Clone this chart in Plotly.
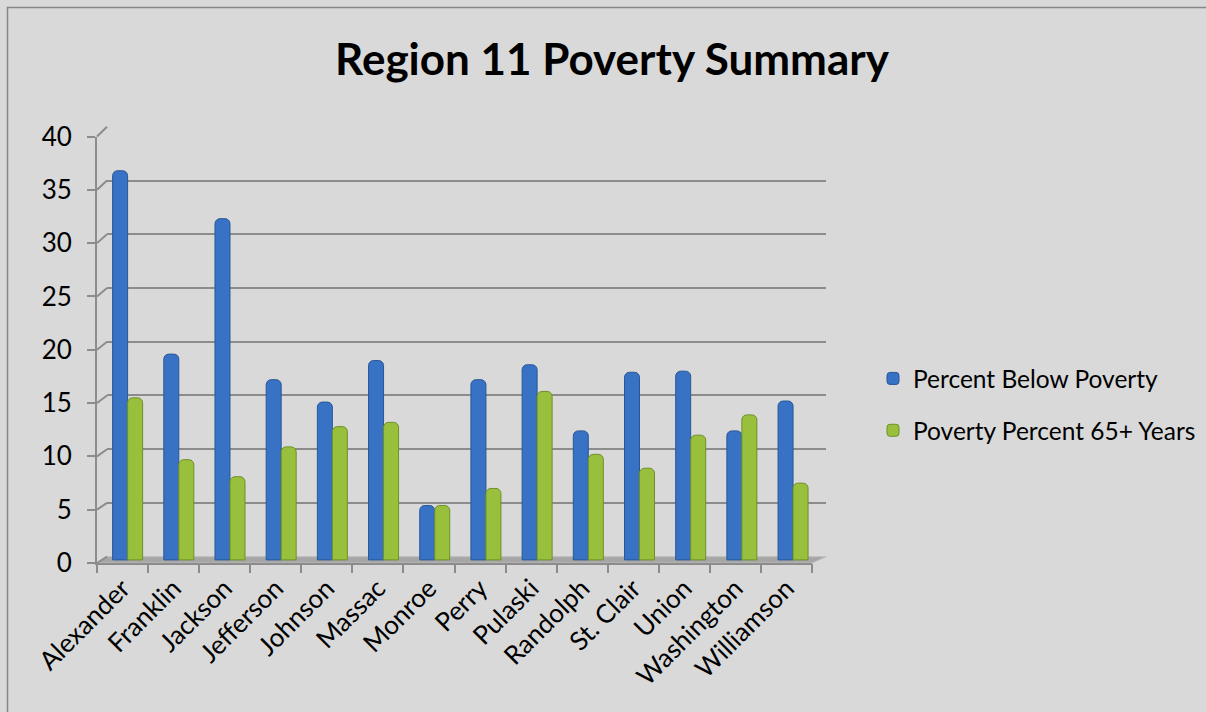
import plotly.graph_objects as go

counties = ["Alexander", "Franklin", "Jackson", "Jefferson", "Johnson", "Massac", "Monroe",
            "Perry", "Pulaski", "Randolph", "St. Clair", "Union", "Washington", "Williamson"]
below_poverty = [36.5, 19.3, 32.0, 16.9, 14.8, 18.7, 5.1, 16.9, 18.3, 12.1, 17.6, 17.7, 12.1, 14.9]
poverty_65 = [15.2, 9.4, 7.8, 10.6, 12.5, 12.9, 5.1, 6.7, 15.8, 9.9, 8.6, 11.7, 13.6, 7.2]
y_ticks = [0, 5, 10, 15, 20, 25, 30, 35, 40]

W, H = 1206, 712
PL, PR, PT, PB = 97, 826, 126, 566


def fx(px):
    return (px - PL) / (PR - PL)


def fy(py):
    return (PB - py) / (PB - PT)


GRID = "#8c8c8c"
FONT = "Lato"
BLUE, BLUE_EDGE = "#3772c4", "#2a5796"
GREEN, GREEN_EDGE = "#98c03d", "#6f8f28"

# front plane: value 0 at y=563px, 40 at y=136.5px ; bars sit at mid depth (~3px higher)
FRONT_PX_PER_UNIT = (563 - 136.5) / 40
MID_SHIFT = 3.1 / FRONT_PX_PER_UNIT

fig = go.Figure()

# empty traces to make the back-wall and label axes exist
fig.add_trace(go.Scatter(x=[], y=[], xaxis="x", yaxis="y", showlegend=False, hoverinfo="skip"))
fig.add_trace(go.Scatter(x=[], y=[], xaxis="x3", yaxis="y2", showlegend=False, hoverinfo="skip"))

fig.add_trace(go.Bar(name="Percent Below Poverty", x=counties, y=below_poverty,
                     xaxis="x2", yaxis="y3", legendgroup="a",
                     marker=dict(color=BLUE, line=dict(color=BLUE_EDGE, width=1), cornerradius=5)))
fig.add_trace(go.Bar(name="Poverty Percent 65+ Years", x=counties, y=poverty_65,
                     xaxis="x2", yaxis="y3", legendgroup="b",
                     marker=dict(color=GREEN, line=dict(color=GREEN_EDGE, width=1), cornerradius=5)))

shapes = []
# floor
shapes.append(dict(type="path", xref="paper", yref="paper", layer="below",
                   path=f"M {fx(97)},{fy(563)} L {fx(812)},{fy(563)} L {fx(826)},{fy(556.7)} L {fx(107)},{fy(556.7)} Z",
                   fillcolor="#a6a6a6", line=dict(color="#bdbdbd", width=1)))
# diagonal connectors from front axis ticks to back wall gridlines
for v in y_ticks:
    yf = 563 - v * (563 - 136.5) / 40
    yb = 556.7 - v * (556.7 - 126.7) / 40
    shapes.append(dict(type="line", xref="paper", yref="paper", layer="below",
                       x0=fx(97), y0=fy(yf), x1=fx(107), y1=fy(yb),
                       line=dict(color=GRID, width=2)))
# chart border
shapes.append(dict(type="rect", xref="paper", yref="paper", layer="below",
                   x0=fx(7.5), y0=fy(740), x1=fx(1240), y1=fy(7.5),
                   line=dict(color="#868686", width=1.5), fillcolor="rgba(0,0,0,0)"))

fig.update_layout(
    width=W, height=H,
    margin=dict(l=PL, r=W - PR, t=PT, b=H - PB),
    paper_bgcolor="#d9d9d9",
    plot_bgcolor="rgba(0,0,0,0)",
    font=dict(family=FONT, color="#000000", size=24),
    title=dict(text="<b>Region 11 Poverty Summary</b>", x=612 / W, xanchor="center",
               xref="container", yref="container", y=1 - 60 / H, yanchor="middle",
               font=dict(family=FONT, size=44, color="#000000")),
    barmode="group", bargap=0.414, bargroupgap=0,
    showlegend=True,
    legend=dict(x=873 / W, xref="container", xanchor="left",
                y=1 - 356 / H, yref="container", yanchor="top",
                font=dict(family=FONT, size=24.5, color="#000000"),
                bgcolor="rgba(0,0,0,0)", traceorder="grouped", tracegroupgap=17,
                itemclick=False),
    # back wall gridlines
    xaxis=dict(domain=[fx(107), 1], range=[0, 1], visible=False, showgrid=False, fixedrange=True),
    yaxis=dict(domain=[fy(556.7), fy(126.7)], anchor="x", range=[-0.02, 40.02],
               tickvals=y_ticks, showgrid=True, gridcolor=GRID, gridwidth=2,
               showticklabels=False, ticks="", zeroline=False, showline=False),
    # bars x axis
    xaxis2=dict(domain=[0, fx(812)], anchor="y2", type="category",
                categoryorder="array", categoryarray=counties,
                range=[-0.598, 13.37], showticklabels=False, ticks="",
                showline=True, linecolor=GRID, linewidth=2, showgrid=False, zeroline=False),
    # front-plane value axis
    yaxis2=dict(domain=[fy(563), fy(136.5)], anchor="x2", range=[0, 40],
                tickvals=y_ticks, ticks="outside", ticklen=8, tickwidth=2, tickcolor=GRID,
                showline=True, linecolor=GRID, linewidth=2, showgrid=False, zeroline=False,
                ticklabelstandoff=10, tickfont=dict(family=FONT, size=26, color="#000000")),
    # mid-depth value axis for the bars (invisible)
    yaxis3=dict(overlaying="y2", anchor="x2", range=[-MID_SHIFT, 40 - MID_SHIFT],
                visible=False, showgrid=False, zeroline=False),
    # front-plane category labels and boundary ticks
    xaxis3=dict(overlaying="x2", anchor="y2", range=[-0.5, 13.5],
                tickvals=list(range(len(counties))), ticktext=counties, ticks="",
                tickangle=-45, showgrid=False, zeroline=False, showline=False,
                ticklabelstandoff=4,
                tickfont=dict(family=FONT, size=26, color="#000000"),
                minor=dict(tick0=-0.5, dtick=1, ticks="outside", ticklen=9, tickwidth=2,
                           tickcolor=GRID, showgrid=False)),
    shapes=shapes,
)

fig.write_html("out.html")
